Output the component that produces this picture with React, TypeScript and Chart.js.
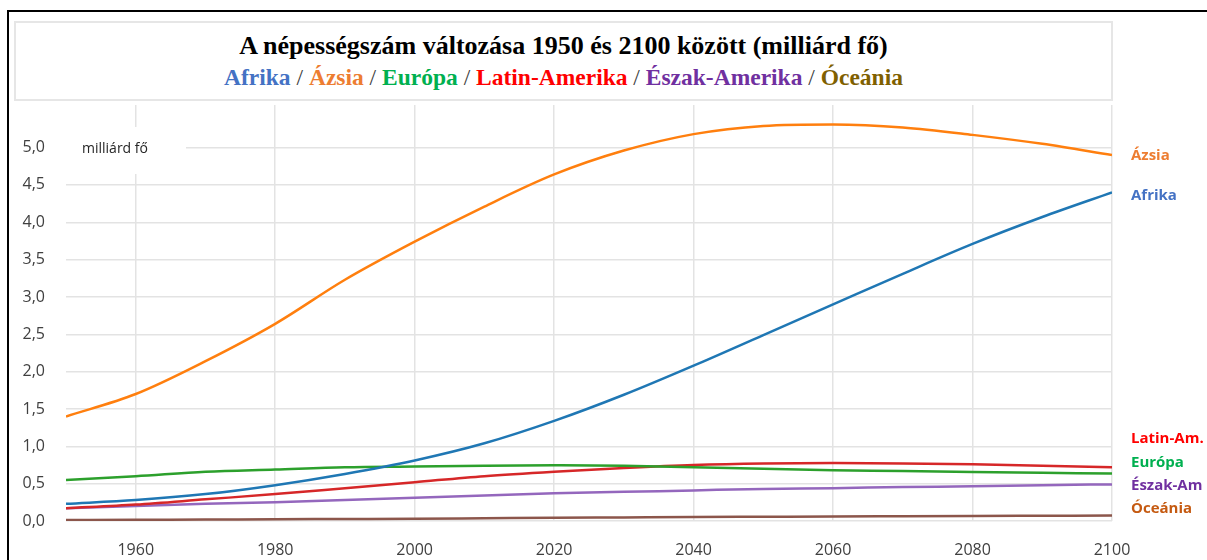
import React, { useEffect, useRef } from "react";
import { Chart, registerables } from "chart.js";

Chart.register(...registerables);

const years = [1950, 1960, 1970, 1980, 1990, 2000, 2010, 2020, 2030, 2040, 2050, 2060, 2070, 2080, 2090, 2100];
const afrika = [0.23, 0.28, 0.36, 0.48, 0.63, 0.81, 1.04, 1.34, 1.69, 2.08, 2.49, 2.9, 3.31, 3.71, 4.07, 4.4];
const azsia = [1.4, 1.7, 2.14, 2.64, 3.23, 3.74, 4.21, 4.64, 4.96, 5.18, 5.29, 5.31, 5.27, 5.17, 5.05, 4.9];
const europa = [0.55, 0.6, 0.66, 0.69, 0.72, 0.73, 0.74, 0.745, 0.74, 0.72, 0.7, 0.68, 0.67, 0.655, 0.645, 0.635];
const latinAmerika = [0.17, 0.22, 0.29, 0.36, 0.44, 0.52, 0.6, 0.66, 0.71, 0.75, 0.77, 0.775, 0.77, 0.76, 0.74, 0.72];
const eszakAmerika = [0.17, 0.2, 0.23, 0.25, 0.28, 0.31, 0.34, 0.37, 0.39, 0.41, 0.43, 0.44, 0.455, 0.465, 0.48, 0.49];
const oceania = [0.013, 0.016, 0.02, 0.023, 0.027, 0.031, 0.037, 0.043, 0.048, 0.053, 0.057, 0.061, 0.064, 0.067, 0.07, 0.072];

const xTicks = [1960, 1980, 2000, 2020, 2040, 2060, 2080, 2100];
const yTicks = [0, 0.5, 1, 1.5, 2, 2.5, 3, 3.5, 4, 4.5, 5];

const seriesNames = ["Afrika", "Ázsia", "Európa", "Latin-Amerika", "Észak-Amerika", "Óceánia"];
const seriesValues = [afrika, azsia, europa, latinAmerika, eszakAmerika, oceania];
const lineColors = ["#1f77b4", "#ff7f0e", "#2ca02c", "#d62728", "#9467bd", "#8c564b"];

const endLabels = ["Ázsia", "Afrika", "Latin-Am.", "Európa", "Észak-Am", "Óceánia"];
const endLabelColors = ["#ED7D31", "#4472C4", "#FF0000", "#00B050", "#7030A0", "#C55A11"];
const endLabelY = [156, 196, 439, 463, 486, 509];

const titleParts = ["Afrika", "Ázsia", "Európa", "Latin-Amerika", "Észak-Amerika", "Óceánia"];
const titleColors = ["#4472C4", "#ED7D31", "#00B050", "#FF0000", "#7030A0", "#7F6000"];

const FONT = "'Open Sans', 'DejaVu Sans', sans-serif";

const overlayPlugin = {
  id: "overlay",
  beforeDatasetsDraw(chart: any) {
    const ctx = chart.ctx;
    const area = chart.chartArea;
    ctx.save();
    ctx.fillStyle = "#ffffff";
    ctx.fillRect(area.left, 127, 186 - area.left, 47);
    ctx.fillStyle = "#262626";
    ctx.font = `14px ${FONT}`;
    ctx.textBaseline = "middle";
    ctx.textAlign = "left";
    ctx.fillText("milliárd fő", 82, 149);
    ctx.restore();
  },
  afterDraw(chart: any) {
    const ctx = chart.ctx;
    ctx.save();
    ctx.font = `bold 15px ${FONT}`;
    ctx.textBaseline = "middle";
    ctx.textAlign = "left";
    endLabels.forEach((t, i) => {
      ctx.fillStyle = endLabelColors[i];
      ctx.fillText(t, 1131, endLabelY[i]);
    });
    ctx.restore();
  },
};

export default function App() {
  const ref = useRef<HTMLCanvasElement | null>(null);

  useEffect(() => {
    if (!ref.current) return;
    const chart = new Chart(ref.current, {
      type: "line",
      data: {
        datasets: seriesNames.map((name, i) => ({
          label: name,
          data: years.map((y, j) => ({ x: y, y: seriesValues[i][j] })),
          borderColor: lineColors[i],
          backgroundColor: lineColors[i],
          borderWidth: 2.5,
          pointRadius: 0,
          tension: 0.4,
          cubicInterpolationMode: "monotone" as const,
          fill: false,
        })),
      },
      options: {
        animation: false,
        responsive: false,
        layout: { padding: { top: 105, right: 95, left: 0, bottom: 0 } },
        plugins: {
          legend: { display: false },
          title: { display: false },
          tooltip: { enabled: false },
        },
        scales: {
          x: {
            type: "linear",
            min: 1950,
            max: 2100,
            afterBuildTicks: (axis: any) => {
              axis.ticks = xTicks.map((v) => ({ value: v }));
            },
            afterFit: (axis: any) => {
              axis.height = 39;
            },
            grid: { color: "#e3e3e3", lineWidth: 1.5, drawTicks: false },
            border: { display: false },
            ticks: {
              padding: 20,
              color: "#404040",
              font: { family: FONT, size: 16 },
              maxRotation: 0,
              callback: (v: any) => String(v),
            },
          },
          y: {
            min: 0,
            max: 5.57,
            afterBuildTicks: (axis: any) => {
              axis.ticks = yTicks.map((v) => ({ value: v }));
            },
            afterFit: (axis: any) => {
              axis.width = 66;
            },
            grid: { color: "#e3e3e3", lineWidth: 1.5, drawTicks: false },
            border: { display: false },
            ticks: {
              padding: 21,
              color: "#404040",
              font: { family: FONT, size: 16 },
              callback: (v: any) => Number(v).toFixed(1).replace(".", ","),
            },
          },
        },
      },
      plugins: [overlayPlugin],
    });
    return () => chart.destroy();
  }, []);

  return (
    <div style={{ position: "absolute", left: 0, top: 0, width: 1207, height: 560, background: "#fff", overflow: "hidden" }}>
      <div
        style={{
          position: "absolute",
          left: 7,
          top: 10,
          width: 1300,
          height: 700,
          borderTop: "2px solid #000",
          borderLeft: "2px solid #000",
        }}
      />
      <div
        style={{
          position: "absolute",
          left: 14,
          top: 21,
          width: 1099,
          height: 80,
          boxSizing: "border-box",
          border: "2px solid #e6e6e6",
          fontFamily: "'Liberation Serif', 'Times New Roman', serif",
          fontWeight: "bold",
          textAlign: "center",
          color: "#000",
        }}
      >
        <div style={{ position: "absolute", left: 0, right: 0, top: 8, lineHeight: "30px", fontSize: 26 }}>
          A népességszám változása 1950 és 2100 között (milliárd fő)
        </div>
        <div style={{ position: "absolute", left: 0, right: 0, top: 40, lineHeight: "28px", fontSize: 23.5 }}>
          {titleParts.map((p, i) => (
            <React.Fragment key={p}>
              {i > 0 && <span style={{ color: "#404040", fontWeight: "normal" }}> / </span>}
              <span style={{ color: titleColors[i] }}>{p}</span>
            </React.Fragment>
          ))}
        </div>
      </div>
      <canvas ref={ref} width={1207} height={560} style={{ position: "absolute", left: 0, top: 0 }} />
    </div>
  );
}
